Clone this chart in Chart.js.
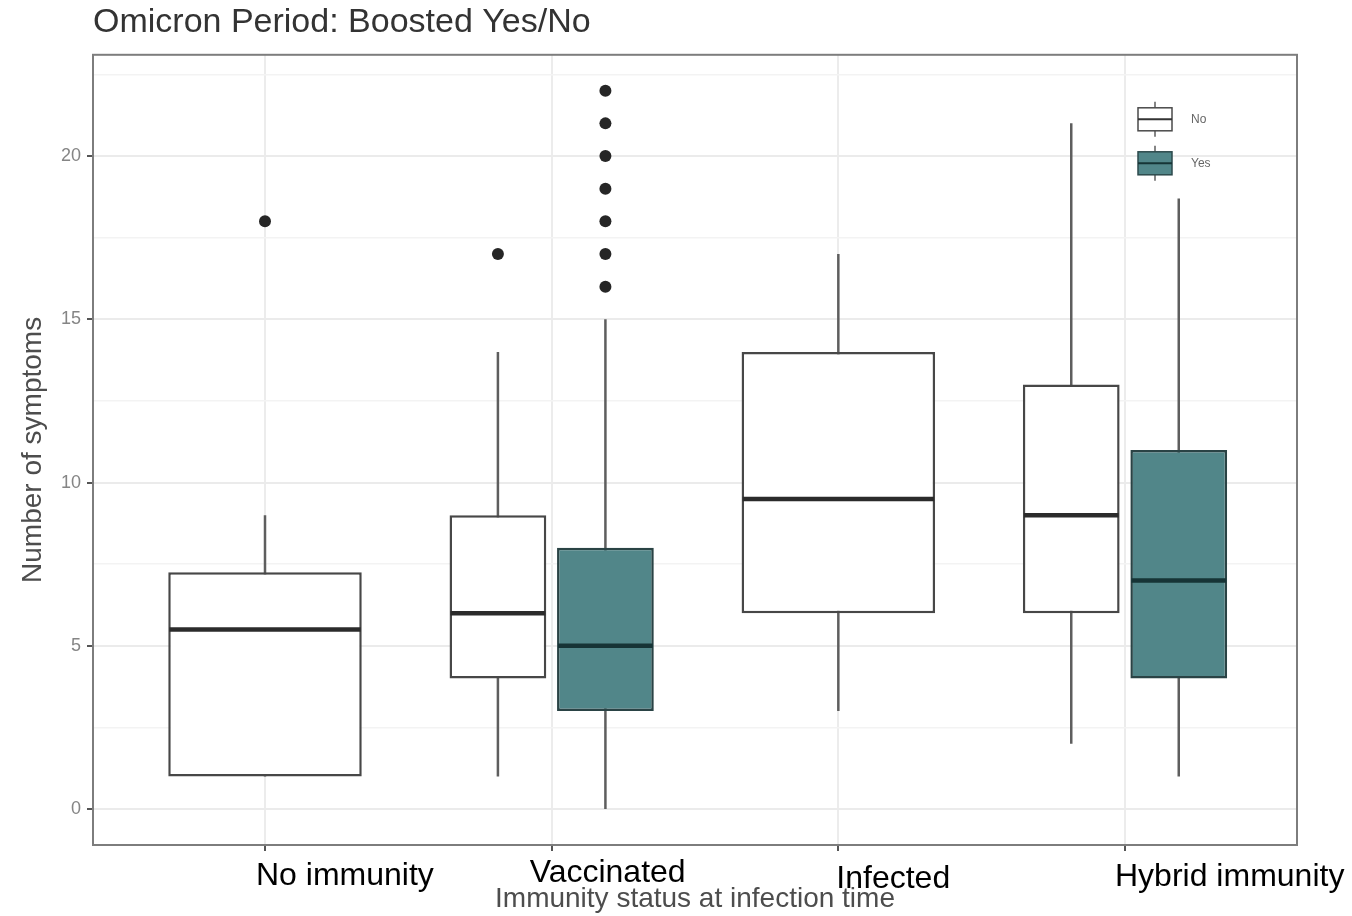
<!DOCTYPE html>
<html>
<head>
<meta charset="utf-8">
<script src="https://cdn.jsdelivr.net/npm/chart.js@4/dist/chart.umd.min.js"></script>
<style>
  html, body { margin: 0; padding: 0; background: #fff; }
  #wrap { width: 1352px; height: 916px; }
</style>
</head>
<body>
<div id="wrap"><canvas id="boxChart" width="1352" height="916"></canvas></div>
<script>
const categories = ["No immunity", "Vaccinated", "Infected", "Hybrid immunity"];

// Boosted = No
const noLow = [1, 1, 3, 2];
const noQ1 = [1, 4, 6, 6];
const noMedian = [5.5, 6, 9.5, 9];
const noQ3 = [7.25, 9, 14, 13];
const noHigh = [9, 14, 17, 21];
const noOutliers = [[18], [17], [], []];

// Boosted = Yes
const yesLow = [null, 0, null, 1];
const yesQ1 = [null, 3, null, 4];
const yesMedian = [null, 5, null, 7];
const yesQ3 = [null, 8, null, 11];
const yesHigh = [null, 15, null, 18.7];
const yesOutliers = [[], [16, 17, 18, 19, 20, 21, 22], [], []];

const yMajor = [0, 5, 10, 15, 20];
const yMinor = [2.5, 7.5, 12.5, 17.5, 22.5];

const fillNo = "#ffffff";
const fillYes = "#518689";
const FONT = "'Liberation Sans', Arial, sans-serif";

function boxData(q1, q3) {
  return categories.map((c, i) => ({ x: i + 1, y: q1[i] == null ? null : [q1[i], q3[i]] }));
}

const stats = [
  { low: noLow, median: noMedian, high: noHigh, outliers: noOutliers, medianColor: "#2b2b2b" },
  { low: yesLow, median: yesMedian, high: yesHigh, outliers: yesOutliers, medianColor: "#163436" }
];

// whiskers go under the boxes, medians and outliers on top
const boxExtras = {
  id: "boxExtras",
  beforeDatasetsDraw(chart) {
    const { ctx, scales: { y } } = chart;
    ctx.save();
    ctx.strokeStyle = "#5e5e5e";
    ctx.lineWidth = 2.5;
    stats.forEach((s, d) => {
      chart.getDatasetMeta(d).data.forEach((bar, i) => {
        if (s.low[i] == null) return;
        ctx.beginPath();
        ctx.moveTo(bar.x, y.getPixelForValue(s.low[i]));
        ctx.lineTo(bar.x, y.getPixelForValue(s.high[i]));
        ctx.stroke();
      });
    });
    ctx.restore();
  },
  afterDatasetsDraw(chart) {
    const { ctx, scales: { y } } = chart;
    ctx.save();
    stats.forEach((s, d) => {
      chart.getDatasetMeta(d).data.forEach((bar, i) => {
        if (s.median[i] == null) return;
        const py = y.getPixelForValue(s.median[i]);
        ctx.strokeStyle = s.medianColor;
        ctx.lineWidth = 4.5;
        ctx.beginPath();
        ctx.moveTo(bar.x - bar.width / 2 + 1, py);
        ctx.lineTo(bar.x + bar.width / 2 - 1, py);
        ctx.stroke();
        ctx.fillStyle = "#262626";
        s.outliers[i].forEach(v => {
          ctx.beginPath();
          ctx.arc(bar.x, y.getPixelForValue(v), 6, 0, Math.PI * 2);
          ctx.fill();
        });
      });
    });
    ctx.restore();
  },
  afterDraw(chart) {
    const { ctx, chartArea: a, scales: { x } } = chart;
    ctx.save();
    // panel border
    ctx.strokeStyle = "#7d7d7d";
    ctx.lineWidth = 2;
    ctx.strokeRect(a.left, a.top, a.right - a.left, a.bottom - a.top);

    // legend
    const keys = [
      { label: chart.data.datasets[0].label, fill: fillNo, edge: "#4a4a4a", mid: "#333" },
      { label: chart.data.datasets[1].label, fill: fillYes, edge: "#2d4a4c", mid: "#163436" }
    ];
    keys.forEach((k, n) => {
      const kx = a.right - 159, ky = a.top + 53 + n * 44, kw = 34, kh = 23;
      ctx.strokeStyle = "#5e5e5e";
      ctx.lineWidth = 1.5;
      ctx.beginPath();
      ctx.moveTo(kx + kw / 2, ky - 6); ctx.lineTo(kx + kw / 2, ky);
      ctx.moveTo(kx + kw / 2, ky + kh); ctx.lineTo(kx + kw / 2, ky + kh + 6);
      ctx.stroke();
      ctx.fillStyle = k.fill;
      ctx.fillRect(kx, ky, kw, kh);
      ctx.strokeStyle = k.edge;
      ctx.lineWidth = 1.5;
      ctx.strokeRect(kx, ky, kw, kh);
      ctx.strokeStyle = k.mid;
      ctx.lineWidth = 2;
      ctx.beginPath();
      ctx.moveTo(kx, ky + kh / 2); ctx.lineTo(kx + kw, ky + kh / 2);
      ctx.stroke();
      ctx.fillStyle = "#666";
      ctx.font = "12px " + FONT;
      ctx.textAlign = "left";
      ctx.textBaseline = "middle";
      ctx.fillText(k.label, kx + kw + 19, ky + kh / 2);
    });

    // category names under the axis
    const nudge = [[-9, 40], [-22, 37], [-2, 43], [-10, 41]];
    ctx.fillStyle = "#000";
    ctx.font = "32px " + FONT;
    ctx.textAlign = "left";
    ctx.textBaseline = "alphabetic";
    categories.forEach((c, i) => {
      ctx.fillText(c, x.getPixelForValue(i + 1) + nudge[i][0], a.bottom + nudge[i][1]);
    });
    ctx.restore();
  }
};

new Chart(document.getElementById("boxChart"), {
  type: "bar",
  data: {
    datasets: [
      {
        label: "No",
        data: boxData(noQ1, noQ3),
        backgroundColor: fillNo,
        borderColor: "#474747",
        borderWidth: 2.5,
        borderSkipped: false
      },
      {
        label: "Yes",
        data: boxData(yesQ1, yesQ3),
        backgroundColor: fillYes,
        borderColor: "#2a4345",
        borderWidth: 2.5,
        borderSkipped: false
      }
    ]
  },
  options: {
    responsive: false,
    animation: false,
    events: [],
    skipNull: true,
    categoryPercentage: 0.75,
    barPercentage: 0.9,
    layout: { padding: { left: 0, right: 55, top: 0, bottom: 0 } },
    plugins: {
      legend: { display: false },
      tooltip: { enabled: false },
      title: {
        display: true,
        text: "Omicron Period: Boosted Yes/No",
        align: "start",
        fullSize: false,
        color: "#333",
        font: { family: FONT, size: 34, weight: "normal" },
        padding: { top: 2, bottom: 12 }
      }
    },
    scales: {
      x: {
        type: "linear",
        min: 0.4,
        max: 4.6,
        offset: false,
        afterBuildTicks: s => { s.ticks = categories.map((c, i) => ({ value: i + 1 })); },
        afterFit: s => { s.height = 71; },
        ticks: { display: false },
        grid: { offset: false, color: "#ececec", lineWidth: 2, tickColor: "#555", tickLength: 6 },
        border: { display: false },
        title: {
          display: true,
          text: "Immunity status at infection time",
          color: "#4d4d4d",
          font: { family: FONT, size: 28 },
          padding: { top: 0, bottom: 0 }
        }
      },
      y: {
        min: -1.1,
        max: 23.1,
        afterBuildTicks: s => {
          s.ticks = yMajor.concat(yMinor).sort((a, b) => a - b).map(v => ({ value: v }));
        },
        afterFit: s => { s.width = 93; },
        ticks: {
          color: "#858585",
          padding: 6,
          font: { family: FONT, size: 18 },
          callback: v => yMajor.includes(v) ? String(v) : ""
        },
        grid: {
          color: c => yMajor.includes(c.tick.value) ? "#ebebeb" : "#f3f3f3",
          lineWidth: c => yMajor.includes(c.tick.value) ? 2 : 1.5,
          tickColor: c => yMajor.includes(c.tick.value) ? "#555" : "rgba(0,0,0,0)",
          tickLength: 6
        },
        border: { display: false },
        title: {
          display: true,
          text: "Number of symptoms",
          color: "#4d4d4d",
          font: { family: FONT, size: 28 },
          padding: { top: 16, bottom: 0 }
        }
      }
    }
  },
  plugins: [boxExtras]
});
</script>
</body>
</html>
